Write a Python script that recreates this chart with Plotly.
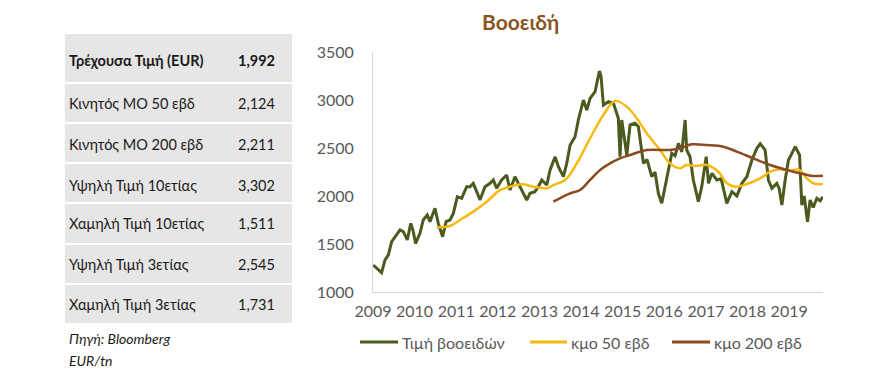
import plotly.graph_objects as go

W, H = 896, 380

# ---------------- data ----------------
table_labels = ["Τρέχουσα Τιμή (EUR)", "Κινητός ΜΟ 50 εβδ", "Κινητός ΜΟ 200 εβδ",
                "Υψηλή Τιμή 10ετίας", "Χαμηλή Τιμή 10ετίας", "Υψηλή Τιμή 3ετίας",
                "Χαμηλή Τιμή 3ετίας"]
table_values = ["1,992", "2,124", "2,211", "3,302", "1,511", "2,545", "1,731"]
source_lines = ["Πηγή: Bloomberg", "EUR/tn"]

price_dates = [
    "2009-01-03", "2009-02-02", "2009-03-17", "2009-04-16", "2009-05-15", "2009-06-14",
    "2009-07-13", "2009-08-26", "2009-09-24", "2009-10-29", "2009-11-28", "2009-12-17",
    "2010-01-10", "2010-02-17", "2010-03-18", "2010-04-22", "2010-05-16", "2010-06-29",
    "2010-07-28", "2010-09-04", "2010-10-04", "2010-11-08", "2010-12-07", "2011-01-11",
    "2011-02-18", "2011-04-03", "2011-05-02", "2011-05-31", "2011-06-30", "2011-07-29",
    "2011-09-11", "2011-10-25", "2011-11-23", "2011-12-22", "2012-02-04", "2012-03-19",
    "2012-04-17", "2012-05-31", "2012-06-29", "2012-07-29", "2012-09-11", "2012-10-10",
    "2012-11-22", "2012-12-22", "2013-01-21", "2013-03-06", "2013-04-04", "2013-05-18",
    "2013-06-16", "2013-07-30", "2013-08-28", "2013-09-27", "2013-11-09", "2013-12-08",
    "2014-01-21", "2014-02-20", "2014-03-21", "2014-05-04", "2014-06-11", "2014-06-25",
    "2014-07-16", "2014-08-29", "2014-10-12", "2014-11-24", "2014-12-09",
    "2014-12-24", "2015-02-06", "2015-03-07", "2015-04-20", "2015-05-19", "2015-07-02",
    "2015-08-03", "2015-09-13", "2015-10-12", "2015-11-10", "2015-12-10", "2016-01-08",
    "2016-02-06", "2016-03-07", "2016-04-05", "2016-05-04", "2016-06-03", "2016-07-02",
    "2016-07-16", "2016-08-14", "2016-09-12", "2016-10-26", "2016-11-25", "2017-01-03",
    "2017-01-23", "2017-02-22", "2017-04-07", "2017-05-14", "2017-07-03", "2017-08-16",
    "2017-09-29", "2017-11-12", "2017-12-26", "2018-02-08", "2018-03-24", "2018-04-22",
    "2018-06-04", "2018-07-03", "2018-08-02", "2018-09-15", "2018-10-05", "2018-10-29",
    "2018-11-27", "2018-12-26", "2019-01-25", "2019-02-23", "2019-04-02", "2019-04-22",
    "2019-05-13", "2019-06-11", "2019-07-04", "2019-07-31", "2019-09-01", "2019-09-30",
    "2019-10-24"]
price_values = [
    1281, 1247, 1201, 1333, 1385, 1524,
    1576, 1646, 1628, 1542, 1715, 1646,
    1507, 1611, 1750, 1802, 1733, 1872,
    1715, 1576, 1733, 1750, 1819, 1993,
    1976, 2097, 2097, 2132, 2045, 1958,
    2097, 2132, 2167, 2080, 2167, 2219,
    2062, 2201, 2132, 2062, 1958, 2028,
    2045, 2097, 2167, 2114, 2271, 2409,
    2305, 2201, 2340, 2531, 2618, 2792,
    3000, 2896, 3017, 3087, 3302, 3250,
    2948, 2983, 2965, 2809, 2409,
    2792, 2427, 2740, 2757, 2722, 2340,
    2380, 2201, 2250, 2028, 1924, 2097,
    2305, 2444, 2420, 2549, 2460, 2792,
    2479, 2409, 2167, 1941, 2097, 2409,
    2132, 2236, 2167, 2180, 1924, 2045,
    2000, 2132, 2201, 2375, 2497, 2545,
    2479, 2167, 2080, 2132, 2080, 1906,
    2167, 2375, 2444, 2514, 2427, 1906,
    2000, 1731, 1958, 1880, 1976, 1950,
    1992]

ma50_dates = [
    "2010-07-14", "2010-11-08", "2011-02-03", "2011-05-31", "2011-09-26", "2012-01-20",
    "2012-04-17", "2012-07-29", "2012-11-08", "2013-03-06", "2013-05-03", "2013-08-14",
    "2013-11-24", "2014-03-21", "2014-07-16", "2014-10-26", "2015-02-06", "2015-05-05",
    "2015-07-31", "2015-11-25", "2016-02-20", "2016-05-19", "2016-07-16", "2016-09-27",
    "2017-01-09", "2017-04-20", "2017-07-03", "2017-09-14", "2017-12-26", "2018-04-22",
    "2018-07-18", "2018-10-14", "2019-01-10", "2019-03-24", "2019-06-05", "2019-08-02",
    "2019-10-24"]
ma50_values = [
    1674, 1688, 1750, 1837, 1941, 2062,
    2097, 2122, 2097, 2080, 2114, 2167,
    2340, 2600, 2844, 2990, 2931, 2809,
    2653, 2479, 2340, 2289, 2323, 2312,
    2323, 2253, 2132, 2097, 2125, 2184,
    2253, 2278, 2264, 2278, 2184, 2132,
    2124]

ma200_dates = [
    "2013-05-03", "2013-09-27", "2013-12-23", "2014-03-21", "2014-06-17", "2014-09-12",
    "2014-12-09", "2015-03-07", "2015-07-31", "2016-02-20", "2016-05-19", "2016-08-29",
    "2017-01-09", "2017-06-03", "2017-09-29", "2018-02-21", "2018-07-18", "2018-12-11",
    "2019-05-06", "2019-08-02", "2019-10-24"]
ma200_values = [
    1941, 2028, 2062, 2167, 2271, 2340,
    2392, 2427, 2479, 2479, 2497, 2538,
    2531, 2514, 2462, 2392, 2323, 2271,
    2229, 2208, 2211]

series_names = ["Τιμή βοοειδών", "κμο 50 εβδ", "κμο 200 εβδ"]
series_colors = ["#4b5a1e", "#f5b912", "#8b4a1f"]
year_ticks = [str(y) for y in range(2009, 2020)]
y_ticks = [1000, 1500, 2000, 2500, 3000, 3500]
title_text = "Βοοειδή"

# ---------------- figure ----------------
FONT = "Lato"
GRAY_TXT = "#595959"


def px_x(x):
    return x / W


def px_y(y):
    return 1 - y / H


fig = go.Figure()
fig.add_trace(go.Scatter(x=price_dates, y=price_values, mode="lines", name=series_names[0],
                         line=dict(color=series_colors[0], width=3), showlegend=False))
fig.add_trace(go.Scatter(x=ma50_dates, y=ma50_values, mode="lines", name=series_names[1],
                         line=dict(color=series_colors[1], width=2.5, shape="spline"),
                         showlegend=False))
fig.add_trace(go.Scatter(x=ma200_dates, y=ma200_values, mode="lines", name=series_names[2],
                         line=dict(color=series_colors[2], width=2.5, shape="spline"),
                         showlegend=False))

fig.update_layout(
    width=W, height=H,
    margin=dict(l=0, r=0, t=0, b=0, pad=0, autoexpand=False),
    paper_bgcolor="white", plot_bgcolor="white",
    font=dict(family=FONT, color=GRAY_TXT, size=16),
    showlegend=False,
    xaxis=dict(domain=[px_x(373), px_x(823)], type="date", automargin=False,
               range=["2009-01-01", "2019-10-25"],
               tickvals=[f"{y}-01-01" for y in year_ticks], ticktext=year_ticks,
               showgrid=False, showline=True, linecolor="#d9d9d9", linewidth=1,
               ticks="", ticklabelstandoff=5, zeroline=False,
               tickfont=dict(size=16, color=GRAY_TXT)),
    yaxis=dict(domain=[px_y(292), px_y(52)], range=[1000, 3500], automargin=False,
               tickvals=y_ticks, showgrid=False, showline=True, linecolor="#d9d9d9",
               linewidth=1, ticks="", ticklabelstandoff=15, zeroline=False,
               tickfont=dict(size=16, color=GRAY_TXT)),
)

# title
fig.add_annotation(text=f"<b>{title_text}</b>", x=px_x(520), y=px_y(22), xref="paper", yref="paper",
                   showarrow=False, xanchor="center", yanchor="middle",
                   font=dict(size=21, color="#8a5522", family=FONT))

# legend (drawn manually for exact placement)
leg_line_x = [(360, 398), (530, 567), (672, 710)]
leg_y = 342
for (x0, x1), name, col in zip(leg_line_x, series_names, series_colors):
    fig.add_shape(type="line", xref="paper", yref="paper", x0=px_x(x0), x1=px_x(x1),
                  y0=px_y(leg_y), y1=px_y(leg_y), line=dict(color=col, width=3))
    fig.add_annotation(text=name, x=px_x(x1 + 2), y=px_y(leg_y), xref="paper", yref="paper",
                       showarrow=False, xanchor="left", yanchor="middle",
                       font=dict(size=16, color=GRAY_TXT, family=FONT))

# table rows (gray blocks separated by white gaps)
row_bounds = [(34, 82), (84, 122), (124, 162), (164, 202), (204, 243), (245, 283), (285, 323)]
text_y = [61, 104, 144, 185, 224, 264, 304]
for i, (top, bot) in enumerate(row_bounds):
    fig.add_shape(type="rect", xref="paper", yref="paper",
                  x0=px_x(65), x1=px_x(292), y0=px_y(bot), y1=px_y(top),
                  fillcolor="#e7e6e6", line=dict(width=0), layer="below")
    lab = table_labels[i]
    val = table_values[i]
    if i == 0:
        lab = f"<b>{lab}</b>"
        val = f"<b>{val}</b>"
    fig.add_annotation(text=lab, x=px_x(67), y=px_y(text_y[i]), xref="paper", yref="paper",
                       showarrow=False, xanchor="left", yanchor="middle",
                       font=dict(size=14.5, color="#1a1a1a", family=FONT))
    fig.add_annotation(text=val, x=px_x(277), y=px_y(text_y[i]), xref="paper", yref="paper",
                       showarrow=False, xanchor="right", yanchor="middle",
                       font=dict(size=14.5, color="#1a1a1a", family=FONT))

for s, yy in zip(source_lines, [338, 360]):
    fig.add_annotation(text=f"<i>{s}</i>", x=px_x(67), y=px_y(yy), xref="paper", yref="paper",
                       showarrow=False, xanchor="left", yanchor="middle",
                       font=dict(size=14, color="#1a1a1a", family=FONT))

fig.write_html("out.html", config={"displayModeBar": False},
               post_script="document.body.style.margin='0px';document.body.style.overflow='hidden';")
